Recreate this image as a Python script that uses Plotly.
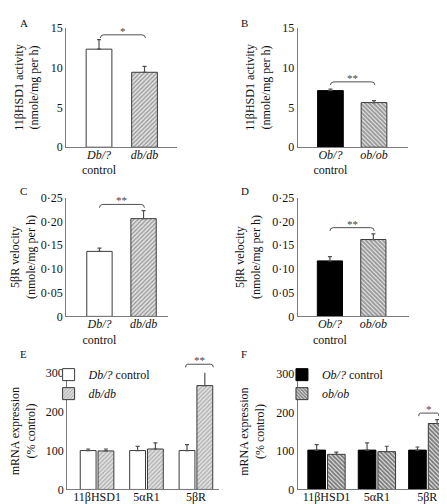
import plotly.graph_objects as go

W, H = 447, 504

# ---------------- data ----------------
db_cats = ["<i>Db/?</i><br>control", "<i>db/db</i>"]
ob_cats = ["<i>Ob/?</i><br>control", "<i>ob/ob</i>"]
genes = ["11βHSD1", "5αR1", "5βR"]

A_vals = [12.3, 9.4]
A_err = [1.2, 0.75]
B_vals = [7.1, 5.6]
B_err = [0.2, 0.25]
C_vals = [0.137, 0.206]
C_err = [0.007, 0.017]
D_vals = [0.117, 0.162]
D_err = [0.009, 0.012]

E_ctrl = [100, 100, 100]
E_ctrl_err = [4, 11, 15]
E_mut = [99, 104, 267]
E_mut_err = [5, 16, 40]

F_ctrl = [102, 102, 102]
F_ctrl_err = [14, 19, 8]
F_mut = [91, 98, 171]
F_mut_err = [6, 14, 10]

# significance brackets: (panel, x0, x1, height, stars)
sig = [
    ("A", 0.03, 1.02, 14.1, "*"),
    ("B", 0.0, 1.02, 8.2, "**"),
    ("C", 0.0, 1.02, 0.236, "**"),
    ("D", 0.0, 1.02, 0.187, "**"),
    ("E", 1.79, 2.35, 322, "**"),
    ("F", 1.83, 2.23, 198, "*"),
]

# ---------------- styles ----------------
FONT = "Liberation Serif, 'Times New Roman', Times, 'DejaVu Serif', serif"
AXC = "#7a7a7a"
DB_PAT = dict(shape="/", fgcolor="#777777", bgcolor="#e0e0e0", size=3, solidity=0.38)
OB_PAT = dict(shape="\\", fgcolor="#0a0a0a", bgcolor="#f2f2f2", size=3, solidity=0.68)


def fx(p):
    return p / W


def fy(p):
    return 1 - p / H


def err(vals):
    return dict(type="data", array=vals, arrayminus=[0] * len(vals), symmetric=False,
                color="#505050", thickness=1.2, width=2)


fig = go.Figure()


def two_bar(vals, errs, xa, ya, first_black, pat, width):
    colors = ["black" if first_black else "white", pat["bgcolor"]]
    fig.add_trace(go.Bar(
        x=list(range(len(vals))), y=vals, width=width,
        marker=dict(color=colors,
                    line=dict(color=["black" if first_black else "#3a3a3a", "#3a3a3a"], width=1),
                    pattern=dict(shape=["", pat["shape"]], fgcolor=pat["fgcolor"],
                                 bgcolor=colors, size=pat["size"], solidity=pat["solidity"])),
        error_y=err(errs), xaxis=xa, yaxis=ya, showlegend=False, hoverinfo="y",
        cliponaxis=False))


two_bar(A_vals, A_err, "x", "y", False, DB_PAT, 0.565)
two_bar(B_vals, B_err, "x2", "y2", True, OB_PAT, 0.59)
two_bar(C_vals, C_err, "x3", "y3", False, DB_PAT, 0.575)
two_bar(D_vals, D_err, "x4", "y4", True, OB_PAT, 0.58)

xs = list(range(len(genes)))
fig.add_trace(go.Bar(x=xs, y=E_ctrl, name="<i>Db/?</i> control", offset=-0.34, width=0.32,
                     marker=dict(color="white", line=dict(color="#3a3a3a", width=1)),
                     error_y=err(E_ctrl_err), xaxis="x5", yaxis="y5", legend="legend",
                     cliponaxis=False))
fig.add_trace(go.Bar(x=xs, y=E_mut, name="<i>db/db</i>", offset=0.02, width=0.32,
                     marker=dict(color=DB_PAT["bgcolor"], line=dict(color="#3a3a3a", width=1),
                                 pattern=DB_PAT),
                     error_y=err(E_mut_err), xaxis="x5", yaxis="y5", legend="legend",
                     cliponaxis=False))
fig.add_trace(go.Bar(x=xs, y=F_ctrl, name="<i>Ob/?</i> control", offset=-0.37, width=0.35,
                     marker=dict(color="black", line=dict(color="black", width=1)),
                     error_y=err(F_ctrl_err), xaxis="x6", yaxis="y6", legend="legend2",
                     cliponaxis=False))
fig.add_trace(go.Bar(x=xs, y=F_mut, name="<i>ob/ob</i>", offset=0.02, width=0.35,
                     marker=dict(color=OB_PAT["bgcolor"], line=dict(color="#3a3a3a", width=1),
                                 pattern=OB_PAT),
                     error_y=err(F_mut_err), xaxis="x6", yaxis="y6", legend="legend2",
                     cliponaxis=False))

# ---------------- axes ----------------
tf = dict(family=FONT, size=12, color="#111")
DOMS = {}


def xax(dom, rng, n, labels, anchor):
    return dict(domain=[fx(dom[0]), fx(dom[1])], range=rng, tickvals=list(range(n)),
                ticktext=labels, showline=True, linecolor=AXC, linewidth=1.3,
                showgrid=False, zeroline=False, ticks="", tickfont=tf, anchor=anchor,
                ticklabelstandoff=-4, fixedrange=True)


def yax(name, dom, rng, tv, tt, title, anchor):
    DOMS[name] = (fy(dom[1]), fy(dom[0]), rng)
    return dict(domain=[fy(dom[1]), fy(dom[0])], range=rng, tickvals=tv, ticktext=tt,
                showline=True, linecolor=AXC, linewidth=1.3, showgrid=False,
                zeroline=False, ticks="", tickfont=tf, anchor=anchor,
                title=dict(text=title, font=tf, standoff=9), fixedrange=True)


act_t = "11βHSD1 activity<br>(nmole/mg per h)"
vel_t = "5βR velocity<br>(nmole/mg per h)"
mrna_t = "mRNA expression<br>(% control)"
v_ticks = [0, 0.05, 0.10, 0.15, 0.20, 0.25]
v_text = ["0", "0·05", "0·10", "0·15", "0·20", "0·25"]
a_ticks = [0, 5, 10, 15]
m_ticks = [0, 100, 200, 300]

fig.update_layout(
    xaxis=xax((54, 166), [-0.717, 1.717], 2, db_cats, "y"),
    yaxis=yax("y", (13, 136), [0, 15], a_ticks, [str(t) for t in a_ticks], act_t, "x"),
    xaxis2=xax((288, 399), [-0.75, 1.77], 2, ob_cats, "y2"),
    yaxis2=yax("y2", (13, 136), [0, 15], a_ticks, [str(t) for t in a_ticks], act_t, "x2"),
    xaxis3=xax((54, 157), [-0.75, 1.56], 2, db_cats, "y3"),
    yaxis3=yax("y3", (188, 310), [0, 0.25], v_ticks, v_text, vel_t, "x3"),
    xaxis4=xax((288, 400), [-0.74, 1.81], 2, ob_cats, "y4"),
    yaxis4=yax("y4", (188, 310), [0, 0.25], v_ticks, v_text, vel_t, "x4"),
    xaxis5=xax((55, 208), [-0.6, 2.46], 3, genes, "y5"),
    yaxis5=yax("y5", (368, 488), [0, 300], m_ticks, [str(t) for t in m_ticks], mrna_t, "x5"),
    xaxis6=xax((288, 446), [-0.57, 2.53], 3, genes, "y6"),
    yaxis6=yax("y6", (369, 488), [0, 300], m_ticks, [str(t) for t in m_ticks], mrna_t, "x6"),
)


def to_paper(ya, v):
    d0, d1, (r0, r1) = DOMS[ya]
    return d0 + (v - r0) / (r1 - r0) * (d1 - d0)


# ---------------- brackets & stars ----------------
axmap = {"A": ("x", "y"), "B": ("x2", "y2"), "C": ("x3", "y3"),
         "D": ("x4", "y4"), "E": ("x5", "y5"), "F": ("x6", "y6")}
drop = {"A": 0.4, "B": 0.4, "C": 0.007, "D": 0.007, "E": 8, "F": 8}
shapes, annots = [], []
for p, x0, x1, h, st in sig:
    xa, ya = axmap[p]
    c = (x1 - x0) * 0.08
    yt = to_paper(ya, h)
    yb = to_paper(ya, h - drop[p])
    path = (f"M {x0},{yb} Q {x0},{yt} {x0 + c},{yt} L {x1 - c},{yt} "
            f"Q {x1},{yt} {x1},{yb}")
    shapes.append(dict(type="path", path=path, xref=xa, yref="paper",
                       line=dict(color="#505050", width=1)))
    annots.append(dict(x=(x0 + x1) / 2, y=yt, xref=xa, yref="paper", text=st, showarrow=False,
                       yanchor="bottom", yshift=-4, font=dict(family=FONT, size=11, color="#444")))

for lab, px, py in [("A", 5, 8), ("B", 229, 8), ("C", 5, 181), ("D", 229, 181),
                    ("E", 5, 349), ("F", 229, 349)]:
    annots.append(dict(x=fx(px), y=fy(py), xref="paper", yref="paper", text=lab,
                       showarrow=False, xanchor="left", yanchor="middle",
                       font=dict(family=FONT, size=11, color="#111")))

leg = dict(font=dict(family=FONT, size=12, color="#111"), bgcolor="rgba(0,0,0,0)",
           yanchor="top", xanchor="left", tracegroupgap=0, itemwidth=30)
fig.update_layout(
    width=W, height=H, margin=dict(l=0, r=0, t=0, b=0),
    paper_bgcolor="white", plot_bgcolor="white",
    barmode="overlay", shapes=shapes, annotations=annots,
    legend=dict(leg, x=fx(36), y=fy(355)),
    legend2=dict(leg, x=fx(272), y=fy(355)),
    font=dict(family=FONT, size=12),
)

fig.write_html("out.html")
